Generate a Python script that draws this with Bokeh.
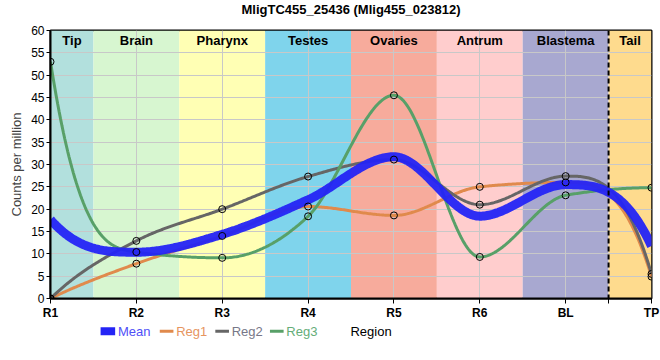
import numpy as np
from bokeh.plotting import figure
from bokeh.layouts import column
from bokeh.models import Range1d, FixedTicker, Span, ColumnDataSource
from bokeh.core.properties import value
from bokeh.embed import file_html
from bokeh.resources import INLINE

# ---------------- data ----------------
title_text = "MligTC455_25436 (Mlig455_023812)"
regions = ["R1", "R2", "R3", "R4", "R5", "R6", "BL", "TP"]
tissues = ["Tip", "Brain", "Pharynx", "Testes", "Ovaries", "Antrum", "Blastema", "Tail"]
reg1 = [0.0, 7.8, 14.0, 20.6, 18.6, 25.0, 26.0, 4.9]
reg2 = [0.0, 12.9, 20.0, 27.3, 31.1, 21.0, 27.4, 5.5]
reg3 = [53.0, 10.4, 9.1, 18.4, 45.5, 9.3, 23.1, 24.8]
series_names = ["Mean", "Reg1", "Reg2", "Reg3"]
y_ticks = list(range(0, 61, 5))
tail_boundary = 6.5

# ---------------- styles ----------------
band_colors = ["#b2e0dd", "#d7f6d0", "#ffffb4", "#7fd4ec", "#f7ab9c",
               "#ffcdcd", "#a8a8d0", "#fedb8e"]
c_mean, c1, c2, c3 = "#2424f5", "#e08a4c", "#666666", "#58a068"
txt_cols = ["#4f4ff7", "#e6955f", "#777788", "#65ad78"]
FONT = value("Liberation Sans")

xs = np.arange(len(regions), dtype=float)
mean = (np.array(reg1) + np.array(reg2) + np.array(reg3)) / 3.0


def smooth(x, y, n=60):
    """Monotone cubic (Steffen) interior tangents, steep end tangents."""
    x = np.asarray(x, float); y = np.asarray(y, float)
    h = np.diff(x); s = np.diff(y) / h
    m = np.zeros_like(y)
    for i in range(1, len(y) - 1):
        p = (s[i - 1] * h[i] + s[i] * h[i - 1]) / (h[i - 1] + h[i])
        m[i] = (np.sign(s[i - 1]) + np.sign(s[i])) * min(abs(s[i - 1]), abs(s[i]), 0.5 * abs(p))

    def end(sv, mn):
        t = 3 * sv - 2 * mn
        if sv == 0 or np.sign(t) != np.sign(sv):
            return 0.0
        return np.sign(sv) * min(abs(t), 3 * abs(sv))

    m[0] = end(s[0], m[1])
    m[-1] = end(s[-1], m[-2])
    ox, oy = [], []
    for i in range(len(h)):
        t = np.linspace(0, 1, n, endpoint=(i == len(h) - 1))
        h00 = 2 * t**3 - 3 * t**2 + 1
        h10 = t**3 - 2 * t**2 + t
        h01 = -2 * t**3 + 3 * t**2
        h11 = t**3 - t**2
        ox.extend(x[i] + t * h[i])
        oy.extend(h00 * y[i] + h10 * h[i] * m[i] + h01 * y[i + 1] + h11 * h[i] * m[i + 1])
    return ox, oy


W = 660
# ---------------- title strip ----------------
TH = 18
tf = figure(width=W, height=TH, output_backend="svg", toolbar_location=None,
            x_range=Range1d(0, W), y_range=Range1d(0, TH),
            x_axis_type=None, y_axis_type=None,
            min_border_left=0, min_border_right=0, min_border_top=0, min_border_bottom=0)
tf.grid.visible = False
tf.outline_line_color = None
tf.text(x=[330], y=[TH - 9], text=[title_text], text_font=FONT, text_font_size="13px",
        text_font_style="bold", text_color="black", text_align="center",
        text_baseline="middle")

# ---------------- main plot ----------------
p = figure(width=W, height=304, output_backend="svg", toolbar_location=None,
           x_range=Range1d(0, len(regions) - 1), y_range=Range1d(0, 60),
           min_border_left=50, min_border_right=9, min_border_top=12, min_border_bottom=22)

left = [max(i - 0.5, 0) for i in range(len(tissues))]
right = [min(i + 0.5, len(tissues) - 1) for i in range(len(tissues))]
bsrc = ColumnDataSource(dict(left=left, right=right, color=band_colors,
                             name=tissues, cx=[(a + b) / 2 for a, b in zip(left, right)],
                             ty=[57.8] * len(tissues)))
br = p.quad(left="left", right="right", bottom=0, top=60, fill_color="color",
            line_color=None, source=bsrc)
br.level = "image"

p.grid.grid_line_color = "#c8c8c8"
p.grid.grid_line_width = 1
p.xgrid.ticker = FixedTicker(ticks=list(xs))
p.ygrid.ticker = FixedTicker(ticks=y_ticks)

p.line(*smooth(xs, reg1), line_color=c1, line_width=3)
p.line(*smooth(xs, reg2), line_color=c2, line_width=3)
p.line(*smooth(xs, reg3), line_color=c3, line_width=3)
p.line(*smooth(xs, mean), line_color=c_mean, line_width=9, line_alpha=0.95)

p.add_layout(Span(location=tail_boundary, dimension="height", line_color="black",
                  line_width=2, line_dash="5 3"))

for arr in (reg1, reg2, reg3):
    p.scatter(xs, arr, size=7, fill_alpha=0, line_color="black", line_width=1)

p.text(x="cx", y="ty", text="name", source=bsrc, text_align="center",
       text_baseline="middle", text_font=FONT, text_font_size="13px",
       text_font_style="bold", text_color="black")

p.xaxis.ticker = FixedTicker(ticks=list(xs) + [tail_boundary])
overrides = {i: r for i, r in enumerate(regions)}
overrides[tail_boundary] = ""
p.xaxis.major_label_overrides = overrides
p.xaxis.major_label_text_font = "Liberation Sans"
p.xaxis.major_label_text_font_size = "12px"
p.xaxis.major_label_text_font_style = "bold"
p.xaxis.major_label_text_color = "black"
p.xaxis.major_label_standoff = 2
p.xaxis.major_tick_in = 0
p.xaxis.major_tick_out = 5
p.xaxis.minor_tick_line_color = None

p.yaxis.ticker = FixedTicker(ticks=y_ticks)
p.yaxis.major_label_text_font = "Liberation Sans"
p.yaxis.major_label_text_font_size = "12px"
p.yaxis.major_label_text_color = "black"
p.yaxis.major_label_standoff = 2
p.yaxis.major_tick_in = 0
p.yaxis.major_tick_out = 4
p.yaxis.minor_tick_line_color = None
p.yaxis.axis_label = "Counts per million"
p.yaxis.axis_label_text_font = "Liberation Sans"
p.yaxis.axis_label_text_font_size = "13px"
p.yaxis.axis_label_text_font_style = "normal"
p.yaxis.axis_label_standoff = 4

for ax in (p.xaxis, p.yaxis):
    ax.axis_line_color = "black"
    ax.axis_line_width = 2
    ax.major_tick_line_color = "black"

p.outline_line_color = "black"
p.outline_line_width = 2
p.outline_line_alpha = 1

# ---------------- legend strip ----------------
H = 38
q = figure(width=W, height=H, output_backend="svg", toolbar_location=None,
           x_range=Range1d(0, W), y_range=Range1d(0, H),
           x_axis_type=None, y_axis_type=None,
           min_border_left=0, min_border_right=0, min_border_top=0, min_border_bottom=0)
q.grid.visible = False
q.outline_line_color = None
ry = H - 8.7
glyph_x0 = [55, 120, 181, 241]
glyph_w = [16, 15, 15, 15]
line_cols = [c_mean, c1, c2, c3]
q.rect(x=glyph_x0[0] + glyph_w[0] / 2, y=ry, width=glyph_w[0], height=8,
       fill_color=c_mean, line_color=None)
for i in range(1, 4):
    q.segment(x0=glyph_x0[i], y0=ry, x1=glyph_x0[i] + glyph_w[i], y1=ry,
              line_color=line_cols[i], line_width=3)
q.text(x=[g + w + 3 for g, w in zip(glyph_x0, glyph_w)], y=[ry] * 4, text=series_names,
       text_color=txt_cols, text_font=FONT, text_font_size="13px",
       text_baseline="middle", text_align="left")
q.text(x=[352], y=[ry], text=["Region"], text_color="black", text_font=FONT,
       text_font_size="13px", text_baseline="middle", text_align="center")

layout = column(tf, p, q, spacing=0)
open("out.html", "w").write(file_html(layout, INLINE))
